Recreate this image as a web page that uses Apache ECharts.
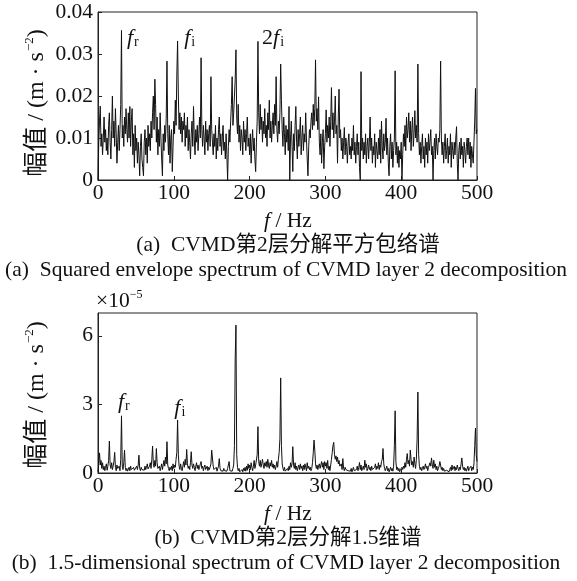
<!DOCTYPE html>
<html><head><meta charset="utf-8">
<script src="https://cdn.jsdelivr.net/npm/echarts@6/dist/echarts.min.js"></script>
<style>html,body{margin:0;padding:0;background:#fff}#c{width:577px;height:581px}</style>
</head><body><div id="c"></div>
<script>
// ---- data ----
const freqStart = 0;      // Hz
const freqStep = 1;       // Hz per sample
const xTicks = [0, 100, 200, 300, 400, 500];
const envYTicks = [0, 0.01, 0.02, 0.03, 0.04];
const specYTicks = [0, 3, 6];          // ×10^-5
const specYMax = 7;

// (a) squared envelope spectrum, m·s^-2, f = 0..500 Hz
const envValues = [
0.000,0.009,0.014,0.0176,0.008,0.011,0.006,0.010,0.015,0.009,
0.012,0.007,0.010,0.006,0.013,0.016,0.009,0.005,0.012,0.020,
0.010,0.014,0.008,0.017,0.011,0.004,0.009,0.013,0.007,0.012,
0.018,0.0356,0.010,0.013,0.008,0.015,0.011,0.017,0.012,0.009,
0.016,0.010,0.0175,0.008,0.014,0.017,0.006,0.011,0.003,0.013,
0.007,0.010,0.004,0.009,0.006,0.001,0.008,0.011,0.005,0.003,
0.001,0.009,0.012,0.006,0.010,0.004,0.013,0.008,0.011,0.007,
0.014,0.010,0.016,0.020,0.012,0.024,0.018,0.009,0.015,0.006,
0.012,0.008,0.016,0.010,0.005,0.001,0.011,0.007,0.013,0.009,
0.015,0.0283,0.011,0.006,0.013,0.004,0.010,0.012,0.002,0.008,
0.014,0.011,0.019,0.013,0.025,0.0331,0.020,0.012,0.016,0.011,
0.015,0.009,0.014,0.012,0.016,0.008,0.013,0.010,0.015,0.007,
0.012,0.009,0.005,0.011,0.014,0.008,0.0175,0.010,0.006,0.012,
0.009,0.013,0.007,0.011,0.015,0.010,0.0291,0.012,0.008,0.013,
0.010,0.006,0.014,0.009,0.012,0.007,0.011,0.013,0.008,0.0246,
0.012,0.009,0.006,0.011,0.008,0.013,0.005,0.010,0.007,0.012,
0.015,0.008,0.011,0.006,0.010,0.013,0.007,0.009,0.005,0.011,
0.006,0.000,0.008,0.012,0.009,0.014,0.018,0.0246,0.013,0.016,
0.020,0.024,0.031,0.015,0.011,0.018,0.009,0.013,0.007,0.012,
0.010,0.006,0.014,0.009,0.012,0.007,0.011,0.015,0.008,0.010,
0.006,0.011,0.004,0.009,0.012,0.007,0.010,0.005,0.002,0.009,
0.014,0.033,0.016,0.011,0.018,0.012,0.015,0.009,0.014,0.011,
0.017,0.010,0.013,0.008,0.016,0.012,0.019,0.010,0.014,0.009,
0.013,0.016,0.011,0.018,0.013,0.0246,0.012,0.009,0.014,0.011,
0.016,0.0276,0.019,0.012,0.008,0.015,0.011,0.006,0.013,0.009,
0.012,0.007,0.0175,0.000,0.010,0.014,0.008,0.002,0.011,0.007,
0.013,0.0175,0.009,0.005,0.012,0.008,0.011,0.015,0.006,0.010,
0.013,0.007,0.011,0.009,0.016,0.010,0.005,0.001,0.008,0.012,
0.010,0.014,0.016,0.012,0.018,0.013,0.017,0.0286,0.014,0.017,
0.012,0.0198,0.009,0.006,0.011,0.004,0.009,0.012,0.0027,0.008,
0.011,0.0167,0.009,0.013,0.010,0.015,0.008,0.014,0.022,0.012,
0.016,0.010,0.014,0.020,0.011,0.013,0.004,0.015,0.0216,0.010,
0.012,0.007,0.010,0.005,0.009,0.0125,0.006,0.010,0.008,0.004,
0.009,0.011,0.006,0.008,0.005,0.010,0.007,0.013,0.006,0.009,
0.004,0.008,0.011,0.006,0.009,0.003,0.000,0.0258,0.007,0.010,
0.005,0.009,0.006,0.011,0.004,0.008,0.010,0.005,0.009,0.015,
0.007,0.010,0.004,0.008,0.006,0.011,0.003,0.009,0.007,0.005,
0.010,0.006,0.012,0.004,0.014,0.008,0.005,0.011,0.007,0.009,
0.0147,0.006,0.010,0.004,0.001,0.008,0.011,0.005,0.009,0.003,
0.007,0.010,0.026,0.006,0.009,0.004,0.008,0.003,0.007,0.005,
0.009,0.000,0.006,0.011,0.008,0.013,0.007,0.015,0.010,0.012,
0.016,0.009,0.014,0.007,0.012,0.015,0.008,0.011,0.0165,0.010,
0.013,0.009,0.0276,0.011,0.006,0.009,0.004,0.008,0.011,0.005,
0.008,0.003,0.010,0.006,0.009,0.004,0.011,0.007,0.009,0.012,
0.006,0.008,0.000,0.007,0.010,0.005,0.011,0.008,0.006,0.010,
0.009,0.012,0.0283,0.010,0.006,0.009,0.004,0.008,0.011,0.005,
0.007,0.010,0.004,0.008,0.006,0.011,0.003,0.009,0.007,0.005,
0.009,0.006,0.010,0.0127,0.004,0.000,0.007,0.009,0.005,0.010,
0.006,0.008,0.003,0.009,0.007,0.004,0.008,0.010,0.006,0.010,
0.005,0.009,0.003,0.008,0.006,0.004,0.009,0.014,0.0218,0.011,
0.012
];

// (b) 1.5-dimensional spectrum, ×10^-5 m·s^-2, f = 0..500 Hz
const specValues = [
0.05,0.40,0.88,0.35,0.55,0.20,0.45,0.15,0.30,0.10,
0.25,0.40,0.12,0.30,0.55,1.40,0.35,0.20,0.45,0.15,
0.30,0.50,0.90,0.25,0.10,0.35,0.20,0.15,0.30,0.10,
0.60,2.50,0.30,0.15,0.45,1.00,0.25,0.10,0.20,0.08,
0.15,0.25,0.10,0.30,0.15,0.20,0.08,0.25,0.12,0.18,
0.10,0.30,0.15,0.35,0.78,0.20,0.10,0.25,0.15,0.08,
0.20,0.12,0.30,0.15,0.25,0.40,0.18,0.10,0.30,0.45,
0.20,0.60,1.18,0.40,0.25,0.55,0.30,1.07,0.45,0.20,
0.15,0.30,0.10,0.25,0.40,0.15,0.35,0.55,0.30,0.70,
0.40,1.37,0.35,0.20,0.10,0.25,0.15,0.30,0.10,0.40,
0.20,0.35,0.25,0.60,0.90,2.32,0.80,0.30,0.15,0.40,
0.20,0.10,0.30,0.50,0.25,0.60,0.35,1.03,0.40,0.20,
0.30,0.15,0.45,0.93,0.35,0.20,0.40,0.25,0.10,0.30,
0.45,0.20,0.35,0.15,0.25,0.40,0.50,0.20,0.30,0.10,
0.25,0.35,0.15,0.20,0.30,0.10,0.25,0.15,0.20,0.40,
1.00,1.07,0.30,0.15,0.20,0.10,0.25,0.08,0.15,0.30,
0.63,0.20,0.10,0.05,0.15,0.08,0.20,0.10,0.05,0.12,
0.08,0.20,0.15,0.50,0.10,0.05,0.15,0.08,0.20,0.35,
1.20,5.00,6.47,0.80,0.25,0.10,0.20,0.05,0.12,0.08,
0.15,0.05,0.20,0.10,0.25,0.08,0.30,0.12,0.40,0.20,
0.35,0.15,0.45,0.25,0.10,0.30,0.55,0.20,0.35,0.40,
0.80,2.03,0.50,0.30,0.55,0.25,0.40,0.60,0.35,0.20,
0.45,0.30,0.50,0.25,0.60,0.35,0.20,0.45,0.30,0.55,
0.25,0.40,0.20,0.35,0.15,0.30,0.50,0.25,0.60,0.90,
1.50,4.16,1.20,0.40,0.20,0.10,0.25,0.08,0.15,0.05,
0.20,0.10,0.30,0.15,0.45,0.25,0.40,1.15,0.35,0.20,
0.45,0.15,0.30,0.10,0.25,0.35,0.15,0.40,0.20,0.30,
0.10,0.35,0.15,0.40,0.25,0.10,0.45,0.20,0.30,0.15,
0.25,0.10,0.20,0.45,0.90,1.44,1.00,0.40,0.20,0.35,
0.15,0.30,0.40,0.20,0.35,0.50,0.25,0.45,0.15,0.50,
0.30,0.45,0.20,0.55,0.15,0.30,0.10,0.35,0.60,0.90,
1.20,1.34,0.80,0.60,0.75,0.50,0.70,0.40,0.55,0.30,
0.25,0.40,0.15,0.63,0.20,0.10,0.25,0.15,0.08,0.20,
0.10,0.05,0.15,0.08,0.20,0.05,0.12,0.25,0.10,0.18,
0.05,0.15,0.30,0.10,0.25,0.46,0.15,0.35,0.10,0.20,
0.30,0.15,0.56,0.25,0.40,0.10,0.20,0.35,0.15,0.25,
0.10,0.30,0.15,0.20,0.08,0.25,0.40,0.15,0.30,0.20,
0.45,0.15,0.35,0.25,0.50,0.60,1.07,0.40,0.20,0.10,
0.15,0.30,0.10,0.20,0.05,0.15,0.25,0.10,0.20,0.08,
0.30,1.20,2.72,0.50,0.15,0.25,0.10,0.20,0.05,0.15,
0.10,0.25,0.15,0.30,0.20,0.45,0.25,0.60,0.85,0.40,
0.55,0.30,1.00,0.60,0.35,0.50,0.25,0.70,0.40,0.20,
0.60,1.50,3.54,0.80,0.30,0.15,0.25,0.10,0.20,0.30,
0.15,0.25,0.40,0.20,0.30,0.10,0.25,0.35,0.45,0.30,
0.66,0.35,0.20,0.56,0.25,0.40,0.15,0.30,0.10,0.20,
0.30,0.50,0.35,0.15,0.25,0.10,0.20,0.08,0.15,0.05,
0.12,0.08,0.20,0.05,0.15,0.25,0.10,0.35,0.15,0.20,
0.30,0.10,0.25,0.15,0.35,0.20,0.10,0.25,0.15,0.40,
0.66,0.30,0.15,0.25,0.10,0.20,0.08,0.15,0.30,0.10,
0.20,0.15,0.30,0.10,0.25,0.15,0.40,1.20,1.96,0.80,
0.50
];

// peak annotations: [label key, freq (Hz), value] – text centre positions
const envMarks = [['fr', 46, 0.0338], ['fi', 121, 0.0338], ['2fi', 231, 0.0338]];
const specMarks = [['fr', 34, 3.1], ['fi', 108, 2.85]];

// ---- chart ----
const SERIF = '"Liberation Serif", "Times New Roman", "Noto Sans CJK SC", serif';
const TXT = '#111';
const FS = 21.5;
const chart = echarts.init(document.getElementById('c'), null, {renderer: 'canvas'});

const toPairs = vals => vals.map((v, i) => [freqStart + i * freqStep, v]);

function xAxis(gi) {
  return {
    type: 'value', gridIndex: gi,
    min: xTicks[0], max: xTicks[xTicks.length - 1], interval: xTicks[1] - xTicks[0],
    axisLine: {show: true, lineStyle: {color: '#222', width: 1}},
    axisTick: {show: true, inside: true, length: 4, lineStyle: {color: '#222'}},
    axisLabel: {color: TXT, fontFamily: SERIF, fontSize: FS, margin: 3},
    splitLine: {show: false}
  };
}
function yAxis(gi, ticks, max, fmt) {
  return {
    type: 'value', gridIndex: gi,
    min: ticks[0], max: max, interval: ticks[1] - ticks[0],
    axisLine: {show: true, lineStyle: {color: '#222', width: 1}},
    axisTick: {show: true, inside: true, length: 4, lineStyle: {color: '#222'}},
    axisLabel: {color: TXT, fontFamily: SERIF, fontSize: FS, margin: 5, formatter: fmt, showMaxLabel: max === ticks[ticks.length - 1]},
    splitLine: {show: false}
  };
}

const option = {
  animation: false,
  backgroundColor: '#fff',
  grid: [
    {left: 98, top: 12, width: 379, height: 168, show: true, borderColor: '#222', borderWidth: 1},
    {left: 98, top: 313, width: 379, height: 160, show: true, borderColor: '#222', borderWidth: 1}
  ],
  xAxis: [xAxis(0), xAxis(1)],
  yAxis: [
    yAxis(0, envYTicks, envYTicks[envYTicks.length - 1], v => v === 0 ? '0' : v.toFixed(2)),
    yAxis(1, specYTicks, specYMax, v => String(v))
  ],
  series: [
    {type: 'line', xAxisIndex: 0, yAxisIndex: 0, data: toPairs(envValues), symbol: 'none',
     lineStyle: {color: '#111', width: 1}, silent: true},
    {type: 'line', xAxisIndex: 1, yAxisIndex: 1, data: toPairs(specValues), symbol: 'none',
     lineStyle: {color: '#111', width: 1}, silent: true}
  ]
};
chart.setOption(option);

const richAnn = {
  f: {fontFamily: SERIF, fontStyle: 'italic', fontSize: 22, fill: TXT},
  n: {fontFamily: SERIF, fontSize: 22, fill: TXT},
  s: {fontFamily: SERIF, fontSize: 14, fill: TXT, verticalAlign: 'bottom', padding: [9, 0, 0, 1]}
};
const annText = {fr: '{f|f}{s|r}', fi: '{f|f}{s|i}', '2fi': '{n|2}{f|f}{s|i}'};

function txt(x, y, text, size) {
  return {type: 'text', x: x, y: y, silent: true,
    style: {text: text, fill: TXT, font: size + 'px ' + SERIF, textAlign: 'center', textVerticalAlign: 'middle'}};
}
function richTxt(x, y, text, rich, align, rot) {
  const el = {type: 'text', x: x, y: y, silent: true,
    style: {text: text, rich: rich, fill: TXT, font: FS + 'px ' + SERIF, textAlign: align || 'center', textVerticalAlign: 'middle'}};
  if (rot) el.rotation = rot;
  return el;
}

const supRich = {
  a: {fontFamily: SERIF, fontSize: 24, fill: TXT, lineHeight: 28},
  c: {fontFamily: SERIF, fontSize: 25, fill: TXT, lineHeight: 28},
  sup: {fontFamily: SERIF, fontSize: 13, fill: TXT, verticalAlign: 'top', lineHeight: 28, padding: [0, 0, 0, 1]}
};
const yName = '{c|幅值}{a| / (m · s}{sup|−2}{a|)}';
const xName = '{f|f}{a| / Hz}';
const xNameRich = {f: {fontFamily: SERIF, fontStyle: 'italic', fontSize: FS, fill: TXT}, a: {fontFamily: SERIF, fontSize: FS, fill: TXT}};
const expRich = {
  a: {fontFamily: SERIF, fontSize: FS, fill: TXT, lineHeight: 24},
  sup: {fontFamily: SERIF, fontSize: 12, fill: TXT, verticalAlign: 'top', lineHeight: 24}
};

const g = [];
// axis names
g.push(richTxt(37, 103, yName, supRich, 'center', Math.PI / 2));
g.push(richTxt(37, 395, yName, supRich, 'center', Math.PI / 2));
g.push(richTxt(288, 221, xName, xNameRich));
g.push(richTxt(288, 514, xName, xNameRich));
// captions
g.push(txt(288, 245, '(a)  CVMD第2层分解平方包络谱', FS));
g.push(txt(286, 270, '(a)  Squared envelope spectrum of CVMD layer 2 decomposition', FS));
g.push(txt(288, 538, '(b)  CVMD第2层分解1.5维谱', FS));
g.push(txt(286, 563, '(b)  1.5-dimensional spectrum of CVMD layer 2 decomposition', FS));
// ×10^-5
g.push(richTxt(96, 301, '{a|×10}{sup|−5}', expRich, 'left'));
// peak labels
envMarks.forEach(m => {
  const p = chart.convertToPixel({xAxisIndex: 0, yAxisIndex: 0}, [m[1], m[2]]);
  g.push(richTxt(p[0], p[1], annText[m[0]], richAnn));
});
specMarks.forEach(m => {
  const p = chart.convertToPixel({xAxisIndex: 1, yAxisIndex: 1}, [m[1], m[2]]);
  g.push(richTxt(p[0], p[1], annText[m[0]], richAnn));
});
chart.setOption({graphic: {elements: g}});
</script>
</body></html>
